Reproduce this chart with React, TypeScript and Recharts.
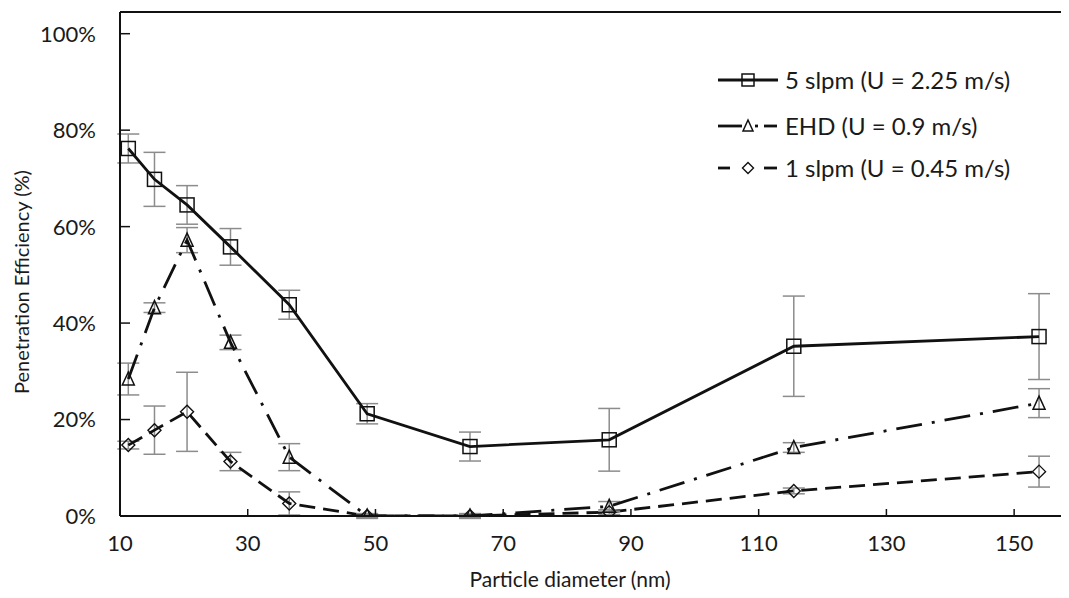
import React from 'react';
import { LineChart, Line, XAxis, YAxis, ErrorBar, ReferenceLine, Legend } from 'recharts';

const diameters = [11.3, 15.4, 20.5, 27.3, 36.5, 48.7, 64.8, 86.6, 115.5, 153.9];
const slpm5 = [76.2, 69.8, 64.5, 55.8, 43.8, 21.2, 14.4, 15.8, 35.2, 37.2];
const slpm5Err = [3.0, 5.6, 4.0, 3.8, 3.0, 2.1, 3.0, 6.5, 10.4, 8.9];
const ehd = [28.4, 43.2, 57.2, 36.0, 12.2, 0, 0, 2.0, 14.2, 23.4];
const ehdErr = [3.3, 1.0, 2.6, 1.5, 2.8, 0.5, 0.5, 1.0, 1.0, 3.0];
const slpm1 = [14.7, 17.8, 21.6, 11.3, 2.6, 0, 0, 0.8, 5.2, 9.2];
const slpm1Err = [0.8, 5.0, 8.2, 1.9, 2.4, 0.3, 0.3, 0.5, 0.6, 3.2];

const xTicks = [10, 30, 50, 70, 90, 110, 130, 150];
const yTicks = [0, 20, 40, 60, 80, 100];

const seriesNames = ['5 slpm (U = 2.25 m/s)', 'EHD (U = 0.9 m/s)', '1 slpm (U = 0.45 m/s)'];

const data = diameters.map((d, i) => ({
  d,
  s5: slpm5[i],
  s5e: slpm5Err[i],
  ehd: ehd[i],
  ehde: ehdErr[i],
  s1: slpm1[i],
  s1e: slpm1Err[i],
}));

const FONT = 'Lato, "Open Sans", sans-serif';
const ERR = '#8c8c8c';
const LW = 2.8;

const Square = ({ cx, cy, s = 14 }: any) => (
  <rect x={cx - s / 2} y={cy - s / 2} width={s} height={s} fill="none" stroke="#111" strokeWidth={1.5} />
);
const Triangle = ({ cx, cy, s = 12 }: any) => (
  <polygon
    points={`${cx},${cy - s / 2 - 1} ${cx - s / 2},${cy + s / 2} ${cx + s / 2},${cy + s / 2}`}
    fill="none"
    stroke="#111"
    strokeWidth={1.5}
  />
);
const Diamond = ({ cx, cy, s = 13 }: any) => (
  <polygon
    points={`${cx},${cy - s / 2} ${cx + s / 2},${cy} ${cx},${cy + s / 2} ${cx - s / 2},${cy}`}
    fill="none"
    stroke="#111"
    strokeWidth={1.4}
  />
);

const YTick = (props: any) => {
  const { x, y, payload } = props;
  return (
    <g>
      <line x1={x} y1={y} x2={x + 10} y2={y} stroke="#111" strokeWidth={1.5} />
      <text x={x - 24} y={y} dy="0.36em" textAnchor="end" fontFamily={FONT} fontSize={22} fill="#1a1a1a">
        {payload.value}%
      </text>
    </g>
  );
};

const XTick = (props: any) => {
  const { x, y, payload } = props;
  return (
    <g>
      <line x1={x} y1={y} x2={x} y2={y - 7} stroke="#111" strokeWidth={1.5} />
      <text x={x} y={y + 35} textAnchor="middle" fontFamily={FONT} fontSize={22} fill="#1a1a1a">
        {payload.value}
      </text>
    </g>
  );
};

const LegendContent = () => {
  const rows = [22, 68, 110];
  const tx = 73;
  const fs = 24;
  return (
    <svg width={360} height={135} style={{ display: 'block' }}>
      <line x1={6} y1={rows[0]} x2={66} y2={rows[0]} stroke="#111" strokeWidth={LW} />
      <Square cx={36} cy={rows[0]} s={12} />
      <text x={tx} y={rows[0]} dy="0.36em" fontFamily={FONT} fontSize={fs} fill="#1a1a1a">{seriesNames[0]}</text>
      <line x1={6} y1={rows[1]} x2={30} y2={rows[1]} stroke="#111" strokeWidth={LW} />
      <Triangle cx={36} cy={rows[1]} s={10} />
      <line x1={43} y1={rows[1]} x2={46} y2={rows[1]} stroke="#111" strokeWidth={LW} />
      <line x1={52} y1={rows[1]} x2={65} y2={rows[1]} stroke="#111" strokeWidth={LW} />
      <text x={tx} y={rows[1]} dy="0.36em" fontFamily={FONT} fontSize={fs} fill="#1a1a1a">{seriesNames[1]}</text>
      <line x1={6} y1={rows[2]} x2={18} y2={rows[2]} stroke="#111" strokeWidth={LW} />
      <Diamond cx={36} cy={rows[2]} s={11} />
      <line x1={52} y1={rows[2]} x2={65} y2={rows[2]} stroke="#111" strokeWidth={LW} />
      <text x={tx} y={rows[2]} dy="0.36em" fontFamily={FONT} fontSize={fs} fill="#1a1a1a">{seriesNames[2]}</text>
    </svg>
  );
};

export default function App() {
  return (
    <div style={{ width: 1061, height: 590, overflow: 'hidden', position: 'relative', background: '#fff' }}>
      <LineChart
        width={1080}
        height={590}
        data={data}
        margin={{ top: 4, right: 10, bottom: 0, left: 0 }}
      >
        <XAxis
          type="number"
          dataKey="d"
          domain={[10, 160]}
          ticks={xTicks}
          allowDataOverflow
          height={82}
          tickSize={0}
          tickMargin={0}
          tickLine={false}
          axisLine={{ stroke: '#111', strokeWidth: 2 }}
          tick={<XTick />}
          label={{
            content: () => (
              <text x={562} y={579} textAnchor="middle" fontFamily={FONT} fontSize={21} fill="#1a1a1a">
                Particle diameter (nm)
              </text>
            ),
          }}
        />
        <YAxis
          type="number"
          domain={[0, 104.5]}
          ticks={yTicks}
          allowDataOverflow
          width={112}
          tickSize={0}
          tickMargin={0}
          tickLine={false}
          axisLine={{ stroke: '#111', strokeWidth: 2 }}
          tick={<YTick />}
          label={{
            content: () => (
              <text
                x={14}
                y={274}
                transform="rotate(-90 14 274)"
                textAnchor="middle"
                dy="0.36em"
                fontFamily={FONT}
                fontSize={20}
                fill="#1a1a1a"
              >
                Penetration Efficiency (%)
              </text>
            ),
          }}
        />
        <ReferenceLine y={104.5} stroke="#111" strokeWidth={2} ifOverflow="visible" />
        <Legend
          layout="horizontal"
          verticalAlign="middle"
          align="center"
          content={<LegendContent />}
          wrapperStyle={{ position: 'absolute', left: 704, top: 50, width: 360, height: 135 }}
        />
        <Line
          dataKey="s1"
          name={seriesNames[2]}
          stroke="#111"
          strokeWidth={LW}
          strokeDasharray="16 8"
          isAnimationActive={false}
          dot={(p: any) => <Diamond key={p.key} cx={p.cx} cy={p.cy} />}
        >
          <ErrorBar dataKey="s1e" direction="y" width={11} stroke={ERR} strokeWidth={1.5} />
        </Line>
        <Line
          dataKey="ehd"
          name={seriesNames[1]}
          stroke="#111"
          strokeWidth={LW}
          strokeDasharray="26 10 3 10"
          isAnimationActive={false}
          dot={(p: any) => <Triangle key={p.key} cx={p.cx} cy={p.cy} />}
        >
          <ErrorBar dataKey="ehde" direction="y" width={11} stroke={ERR} strokeWidth={1.5} />
        </Line>
        <Line
          dataKey="s5"
          name={seriesNames[0]}
          stroke="#111"
          strokeWidth={LW}
          isAnimationActive={false}
          dot={(p: any) => <Square key={p.key} cx={p.cx} cy={p.cy} />}
        >
          <ErrorBar dataKey="s5e" direction="y" width={11} stroke={ERR} strokeWidth={1.5} />
        </Line>
      </LineChart>
    </div>
  );
}
